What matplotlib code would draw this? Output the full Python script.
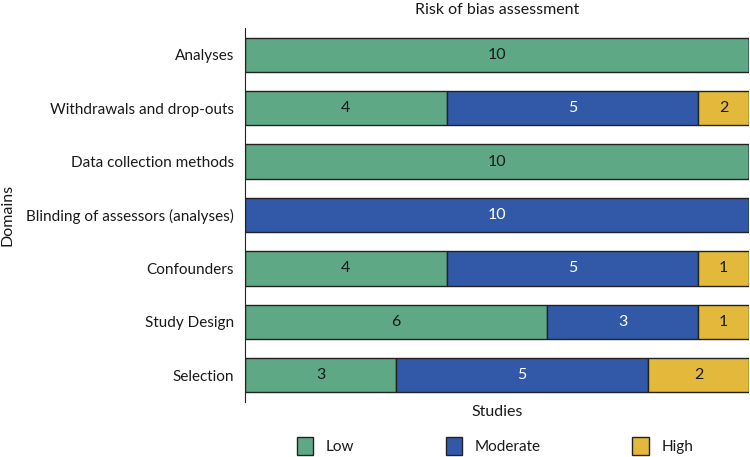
import matplotlib.pyplot as plt
from matplotlib.patches import Patch

# Domains listed bottom to top
domains = ['Selection', 'Study Design', 'Confounders',
           'Blinding of assessors (analyses)', 'Data collection methods',
           'Withdrawals and drop-outs', 'Analyses']
low = [3, 6, 4, 0, 10, 4, 10]
moderate = [5, 3, 5, 10, 0, 5, 0]
high = [2, 1, 1, 0, 0, 1, 0]
# printed labels in the source (withdrawals high shows 2)
high_labels = ['2', '1', '1', '', '', '2', '']

series_names = ['Low', 'Moderate', 'High']
colors = ['#5FA886', '#3259A8', '#E2B93B']
text_colors = ['#1a1a1a', 'white', '#1a1a1a']

plt.rcParams['font.family'] = ['Lato', 'DejaVu Sans']

fig = plt.figure(figsize=(7.5, 4.57), dpi=100)
ax = fig.add_axes([245 / 750, 1 - 402 / 457, 1 - 245 / 750 - 0.0015, (402 - 28) / 457])

y = list(range(len(domains)))
left = [0] * len(domains)
for vals, col, tcol, name in zip([low, moderate, high], colors, text_colors, series_names):
    ax.barh(y, vals, left=left, height=0.64, color=col, edgecolor='#222222', linewidth=1)
    for i, v in enumerate(vals):
        if v > 0:
            lab = high_labels[i] if name == 'High' else str(v)
            ax.text(left[i] + v / 2, y[i], lab, ha='center', va='center',
                    fontsize=11.5, color=tcol)
    left = [a + b for a, b in zip(left, vals)]

ax.set_xlim(0, 10)
ax.set_ylim(-0.5, len(domains) - 0.5)
ax.set_yticks(y)
ax.set_yticklabels(domains, fontsize=11, color='#1a1a1a')
ax.set_xticks([])
ax.tick_params(axis='y', length=0, pad=8)
for s in ['top', 'right', 'bottom']:
    ax.spines[s].set_visible(False)
ax.spines['left'].set_color('#222222')

fig.text(497 / 750, 1 - 10 / 457, 'Risk of bias assessment', ha='center', va='center',
         fontsize=11.5, color='#1a1a1a')
fig.text(497 / 750, 1 - 412 / 457, 'Studies', ha='center', va='center',
         fontsize=11.5, color='#1a1a1a')
fig.text(8 / 750, 1 - 215 / 457, 'Domains', ha='center', va='center', rotation=90,
         fontsize=11.5, color='#1a1a1a')

handles = [Patch(facecolor=c, edgecolor='#222222', linewidth=1) for c in colors]
fig.legend(handles, series_names, loc='center', bbox_to_anchor=(495 / 750, 1 - 446 / 457),
           ncol=3, frameon=False, fontsize=11, handlelength=1.05, handleheight=1.5,
           handletextpad=0.85, columnspacing=6.0, labelcolor='#1a1a1a')

fig.savefig('out.png', dpi=100)
